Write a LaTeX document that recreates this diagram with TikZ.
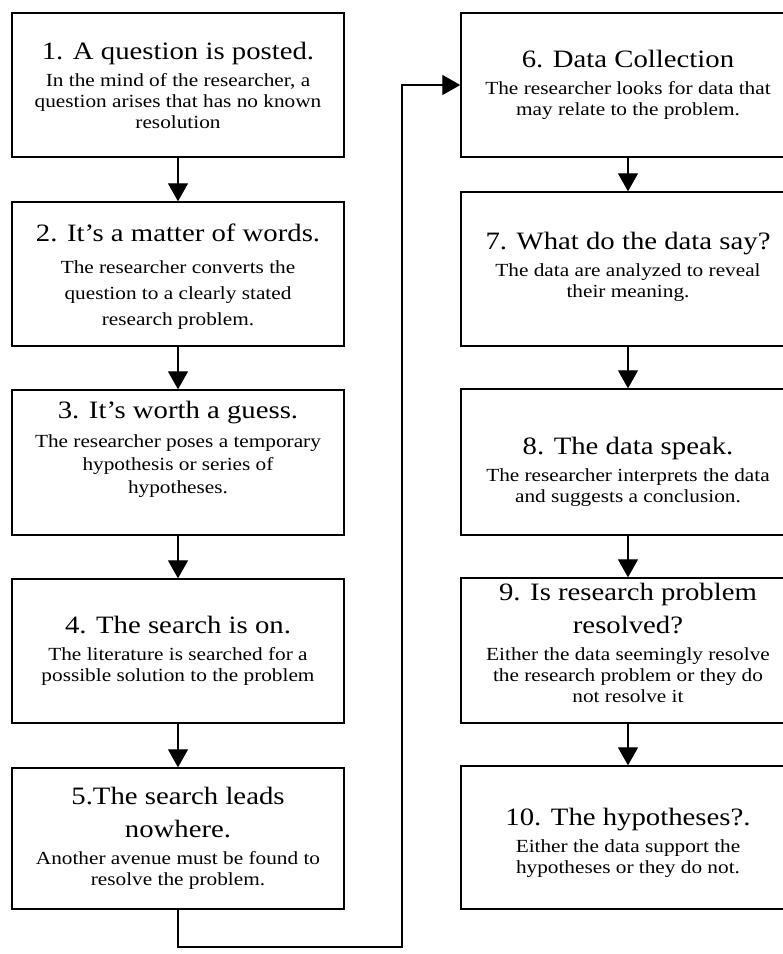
\documentclass[tikz,border=0pt]{standalone}
\usepackage{fontspec}
\setmainfont{Liberation Serif}[FakeStretch=1.15]
\usetikzlibrary{arrows.meta}

% font sizes for the step headings and their descriptions
\newcommand{\bdyskip}{21pt}
\newcommand{\ttlfont}{\fontsize{25}{33}\selectfont}
\newcommand{\bdyfont}{\fontsize{18.5}{\bdyskip}\selectfont}
% heading + description block, lines broken by hand;
% the optional argument moves the text down inside its box
\newcommand{\steptext}[3][0pt]{%
  \begin{minipage}{326pt}\centering
    \kern#1\relax
    \ttlfont #2\par\vspace{6pt}%
    \bdyfont #3\par
    \kern-#1\relax
  \end{minipage}}

\tikzset{
  stepbox/.style={draw, line width=1.4pt, inner sep=0pt, fill=white},
  leftcol/.style={stepbox, minimum width=332pt},
  rightcol/.style={stepbox, minimum width=334pt},
  flow/.style={line width=1.3pt, -{Triangle[width=20pt,length=18pt]}},
}

\begin{document}
\begin{tikzpicture}[x=1pt, y=-1pt]
  \useasboundingbox (0,0) rectangle (783,954);
  \clip (0,0) rectangle (783,954);
  \fill[white] (0,0) rectangle (783,954);

  % left column
  \node[leftcol, minimum height=144pt] (b1) at (178,85)
    {\steptext{1. A question is posted.}{In the mind of the researcher, a\\question arises that has no known\\resolution}};
  \node[leftcol, minimum height=144pt] (b2) at (178,274)
    {\renewcommand{\bdyskip}{26pt}%
     \steptext[3pt]{2. It’s a matter of words.}{The researcher converts the\\question to a clearly stated\\research problem.}};
  \node[leftcol, minimum height=145pt] (b3) at (178,462.5)
    {\renewcommand{\bdyskip}{23pt}%
     \steptext[-13pt]{3. It’s worth a guess.}{The researcher poses a temporary\\hypothesis or series of\\hypotheses.}};
  \node[leftcol, minimum height=144pt] (b4) at (178,651)
    {\steptext{4. The search is on.}{The literature is searched for a\\possible solution to the problem}};
  \node[leftcol, minimum height=141pt] (b5) at (178,838.5)
    {\steptext{5.The search leads\\nowhere.}{Another avenue must be found to\\resolve the problem.}};

  % right column
  \node[rightcol, minimum height=144pt] (b6) at (628,85)
    {\steptext{6. Data Collection}{The researcher looks for data that\\may relate to the problem.}\hspace{8pt}};
  \node[rightcol, minimum height=154pt] (b7) at (628,269)
    {\steptext[-2pt]{7. What do the data say?}{The data are analyzed to reveal\\their meaning.}};
  \node[rightcol, minimum height=146pt] (b8) at (628,462)
    {\steptext[10pt]{8. The data speak.}{The researcher interprets the data\\and suggests a conclusion.}};
  \node[rightcol, minimum height=145pt] (b9) at (628,650.5)
    {\steptext[-8pt]{9. Is research problem\\resolved?}{Either the data seemingly resolve\\the research problem or they do\\not resolve it}};
  \node[rightcol, minimum height=143pt] (b10) at (628,837.5)
    {\steptext[5pt]{10. The hypotheses?.}{Either the data support the\\hypotheses or they do not.}};

  % step-to-step arrows
  \draw[flow] (b1) -- (b2);
  \draw[flow] (b2) -- (b3);
  \draw[flow] (b3) -- (b4);
  \draw[flow] (b4) -- (b5);
  \draw[flow] (b6) -- (b7);
  \draw[flow] (b7) -- (b8);
  \draw[flow] (b8) -- (b9);
  \draw[flow] (b9) -- (b10);

  % return path from step 5 over to step 6
  \coordinate (turn) at (402,947);
  \draw[flow] (b5.south) |- (turn) |- (b6.west);
\end{tikzpicture}
\end{document}
